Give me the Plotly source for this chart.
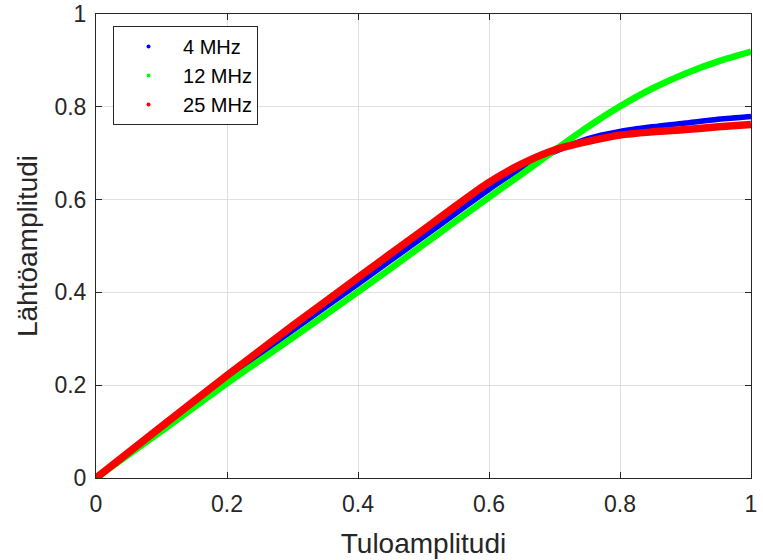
import plotly.graph_objects as go

# Input amplitude samples (normalised)
tulo = [0, 0.1, 0.2, 0.3, 0.4, 0.5, 0.55, 0.6, 0.65, 0.7, 0.75, 0.8, 0.85, 0.9, 0.95, 1.0]

# Output amplitude for each carrier frequency
lahto_4mhz = [0, 0.108, 0.215, 0.318, 0.418, 0.52, 0.571, 0.622, 0.668, 0.703, 0.731, 0.747, 0.757, 0.765, 0.773, 0.779]
lahto_12mhz = [0, 0.101, 0.204, 0.302, 0.401, 0.503, 0.554, 0.605, 0.655, 0.706, 0.756, 0.801, 0.84, 0.872, 0.898, 0.919]
lahto_25mhz = [0, 0.111, 0.221, 0.328, 0.432, 0.535, 0.587, 0.637, 0.677, 0.707, 0.725, 0.739, 0.746, 0.751, 0.757, 0.762]

names = ["4 MHz", "12 MHz", "25 MHz"]
colors = ["#0000ff", "#00ff00", "#ff0000"]
widths = [5.5, 6.5, 7.5]
series = [lahto_4mhz, lahto_12mhz, lahto_25mhz]

tick_vals = [0, 0.2, 0.4, 0.6, 0.8, 1]
tick_text = ["0", "0.2", "0.4", "0.6", "0.8", "1"]

FONT = "Liberation Sans, Arial, sans-serif"

fig = go.Figure()

for name, col, w, ys in zip(names, colors, widths, series):
    fig.add_trace(go.Scatter(
        x=tulo, y=ys, mode="lines", line=dict(color=col, width=w, shape="spline", smoothing=0.8),
        showlegend=False, hoverinfo="skip"))

# Dot-style legend entries
for i, (name, col) in enumerate(zip(names, colors)):
    fig.add_trace(go.Scatter(
        x=[None], y=[None], mode="markers", name=name,
        marker=dict(color=col, size=4), legendgroup=f"g{i}"))

axis_common = dict(
    range=[0, 1], tickvals=tick_vals, ticktext=tick_text,
    showgrid=True, gridcolor="#dfdfdf", gridwidth=1,
    zeroline=False, showline=True, linecolor="#262626", linewidth=1,
    mirror="ticks", ticks="inside", ticklen=6, tickcolor="#262626",
    tickfont=dict(family=FONT, size=23, color="#262626"),
    automargin=False,
)

fig.update_layout(
    width=763, height=560,
    margin=dict(l=96, r=12, t=14, b=82),
    paper_bgcolor="white", plot_bgcolor="white",
    xaxis=dict(**axis_common, ticklabelstandoff=5,
               title=dict(text="Tuloamplitudi", standoff=17,
                          font=dict(family=FONT, size=28, color="#262626"))),
    yaxis=dict(**axis_common, ticklabelstandoff=4,
               title=dict(text="Lähtöamplitudi", standoff=8,
                          font=dict(family=FONT, size=28, color="#262626"))),
    legend=dict(
        x=0.026, y=0.974, xanchor="left", yanchor="top",
        bgcolor="white", bordercolor="#262626", borderwidth=1,
        font=dict(family=FONT, size=20, color="#000000"),
        tracegroupgap=0, itemwidth=59,
    ),
)

fig.write_html("out.html")
